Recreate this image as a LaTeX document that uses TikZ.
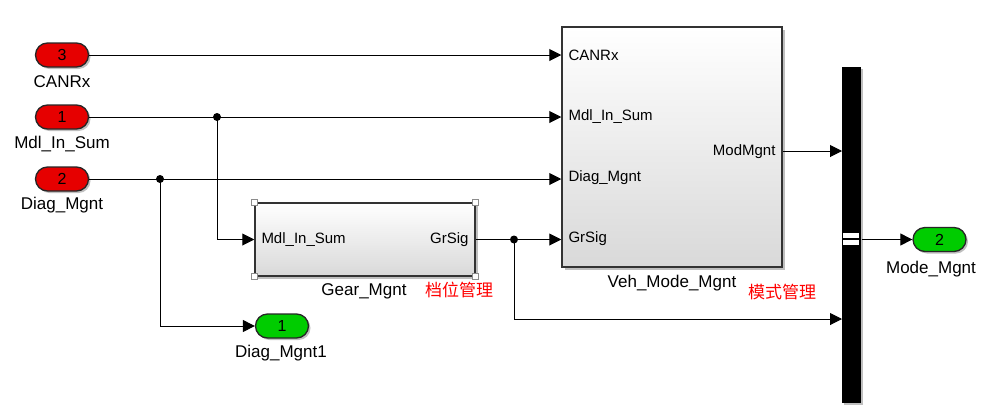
\documentclass[tikz,border=0pt]{standalone}
\usepackage{fontspec}
\setmainfont{Liberation Sans}
\newfontfamily\cjk{Noto Sans CJK SC}
\usetikzlibrary{arrows.meta,shadows,calc}
\begin{document}
\begin{tikzpicture}[x=1pt,y=-1pt,line width=1pt,
  sig/.style={-{Triangle[length=12pt,width=12pt]}},
  port/.style={draw=black!85, line width=1.3pt, rounded corners=12pt, minimum width=53pt, minimum height=24pt, inner sep=0pt, font=\fontsize{16}{16}\selectfont, drop shadow={shadow xshift=2pt,shadow yshift=-2pt,opacity=0.25,fill=black}},
  inport/.style={port, fill={rgb,255:red,230;green,0;blue,0}},
  outport/.style={port, fill={rgb,255:red,0;green,204;blue,0}},
  block/.style={draw=black!80, line width=1.5pt, top color=white, bottom color=black!15, inner sep=0pt, drop shadow={shadow xshift=2.5pt,shadow yshift=-2.5pt,opacity=0.25,fill=black}},
  blabel/.style={font=\fontsize{17}{17}\selectfont, inner sep=0pt},
  plabel/.style={font=\fontsize{15}{15}\selectfont, inner sep=0pt},
  zh/.style={font=\cjk\fontsize{17}{17}\selectfont, text={rgb,255:red,255;green,0;blue,0}, inner sep=0pt},
  dot/.style={circle, fill=black, inner sep=0pt, minimum size=8pt},
  handle/.style={draw=black!45, fill=white, line width=0.8pt, minimum size=6pt, inner sep=0pt}
]
\fill[white] (0,0) rectangle (988,413);
\useasboundingbox (0,0) rectangle (988,413);

% inports
\node[inport] (in3) at (62,55) {3};
\node[inport] (in1) at (62,117) {1};
\node[inport] (in2) at (62,179) {2};
\node[blabel] (l3) at (62,82) {CANRx};
\node[blabel] (l1) at (62,144) {Mdl\_In\_Sum};
\node[blabel] (l2) at (62,205) {Diag\_Mgnt};

% blocks
\node[block, minimum width=220pt, minimum height=240pt] (veh) at (672,147) {};
\node[block, minimum width=220pt, minimum height=73pt] (gear) at (365,239.5) {};
\foreach \c in {north west, north east, south west, south east}
  \node[handle] at (gear.\c) {};

\node[plabel, anchor=west] (pv1) at (568,55) {CANRx};
\node[plabel, anchor=west] (pv2) at (568,117) {Mdl\_In\_Sum};
\node[plabel, anchor=west] (pv3) at (568,178) {Diag\_Mgnt};
\node[plabel, anchor=west] (pv4) at (568,239) {GrSig};
\node[plabel, anchor=east] (pv5) at (776,152) {ModMgnt};
\node[plabel, anchor=west] (pg1) at (261,240) {Mdl\_In\_Sum};
\node[plabel, anchor=east] (pg2) at (469,240) {GrSig};

\node[blabel] (lgear) at (364,291) {Gear\_Mgnt};
\node[zh] (zgear) at (459,290) {档位管理};
\node[blabel] (lveh) at (672,283) {Veh\_Mode\_Mgnt};
\node[zh] (zveh) at (782,292) {模式管理};

% mux
\node[fill=black, minimum width=19pt, minimum height=336pt, inner sep=0pt, drop shadow={shadow xshift=2pt,shadow yshift=-2pt,opacity=0.25,fill=black}] (mux) at (851.5,235) {};
\fill[white] (843,233) rectangle (859,245);
\draw[black, line width=1.2pt] (843,239) -- (859,239);

% outports
\node[outport] (out1) at (282,326) {1};
\node[outport] (out2) at (939.5,239.5) {2};
\node[blabel] (lo1) at (281,353) {Diag\_Mgnt1};
\node[blabel] (lo2) at (931,269) {Mode\_Mgnt};

% junctions
\node[dot] (j1) at (217,117) {};
\node[dot] (j2) at (160,179) {};
\node[dot] (j3) at (514,239.5) {};
\coordinate (m1) at (842,151);
\coordinate (m2) at (842,319);

% connectors
\draw[sig] (in3.east) -- (in3 -| veh.west);
\draw[sig] (in1.east) -- (in1 -| veh.west);
\draw[sig] (in2.east) -- (in2 -| veh.west);
\draw[sig] (j1.center) |- (gear.west);
\draw (gear.east) -- (j3.center);
\draw[sig] (j3.center) -- (j3 -| veh.west);
\draw[sig] (j3.center) |- (m2);
\draw[sig] (m1 -| veh.east) -- (m1);
\draw[sig] (j2.center) |- (out1.west);
\draw[sig] (out2 -| mux.east) -- (out2.west);
\end{tikzpicture}
\end{document}
